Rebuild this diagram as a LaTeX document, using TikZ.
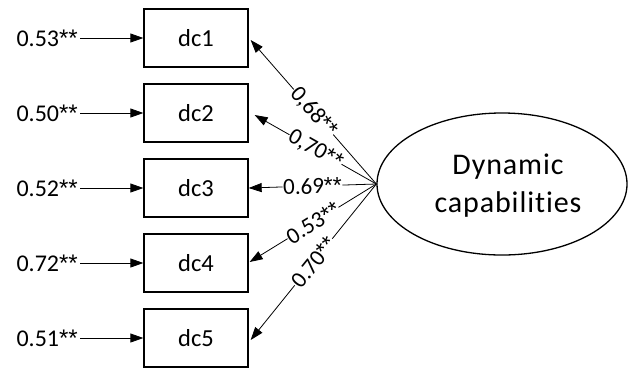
\documentclass[tikz,border=0pt]{standalone}
\usepackage{fontspec}
\setmainfont{Carlito}[Ligatures=NoCommon]
\newfontfamily\astfont{Liberation Sans}
\newfontfamily\bigfont{Carlito}[Ligatures=NoCommon,LetterSpace=3]
\newcommand{\sst}{{\astfont **}}
\usetikzlibrary{arrows.meta,shapes.geometric,calc}
\begin{document}
\begin{tikzpicture}[x=1pt,y=-1pt,
  ind/.style={draw,line width=1.3pt,minimum width=104pt,minimum height=58pt,inner sep=0pt,font=\fontsize{24.5}{28}\selectfont},
  err/.style={anchor=east,inner sep=2pt,font=\fontsize{24}{28}\selectfont},
  arr/.style={line width=0.8pt,-{Triangle[length=13pt,width=9pt]}},
  lab/.style={sloped,pos=0.5,fill=white,inner sep=0.5pt,font=\fontsize{23}{26}\selectfont}]
\useasboundingbox (0,0) rectangle (628,368);
\node[ellipse,draw,line width=1.3pt,minimum width=250pt,minimum height=142pt,inner sep=0pt] (dyn) at (502,184) {};
\node[align=center,inner sep=0pt,font=\bigfont\fontsize{30}{38}\selectfont] (dyntxt) at (508,186) {Dynamic\\capabilities};
\foreach \i/\y/\v in {1/38/0.53,2/113/0.50,3/188/0.52,4/263/0.72,5/338/0.51}{
  \node[ind] (dc\i) at (196,\y) {dc\i};
  \node[err] (e\i) at (80,\y) {\v\sst};
  \draw[arr] (e\i.east) -- (dc\i.west);
}
\draw[arr] (dyn.west) -- node[lab] {0,68\sst} ($(dc1.east)+(2,2)$);
\draw[arr] (dyn.west) -- node[lab] {0,70\sst} ($(dc2.east)+(6,2)$);
\draw[arr] (dyn.west) -- node[lab] {0.69\sst} (dc3.east);
\draw[arr] (dyn.west) -- node[lab] {0.53\sst} ($(dc4.east)+(1,-1)$);
\draw[arr] (dyn.west) -- node[lab] {0.70\sst} ($(dc5.east)+(2,2)$);
\end{tikzpicture}
\end{document}
